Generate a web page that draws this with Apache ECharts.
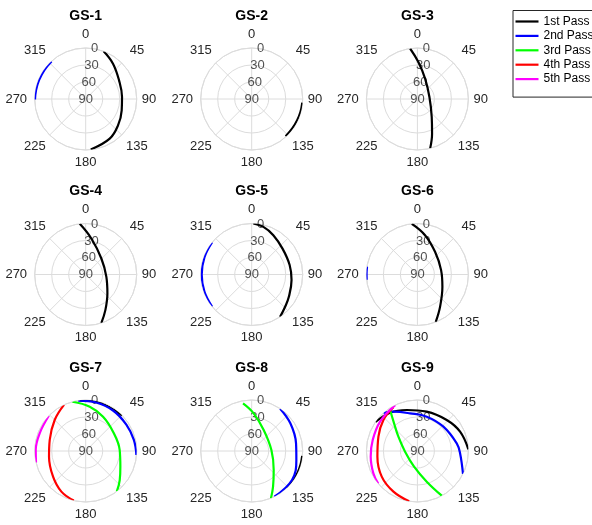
<!DOCTYPE html>
<html>
<head>
<meta charset="utf-8">
<script src="https://cdn.jsdelivr.net/npm/echarts@6/dist/echarts.min.js"></script>
<style>
html,body{margin:0;padding:0;background:#fff;}
#chart{width:592px;height:525px;}
</style>
</head>
<body>
<div id="chart"></div>
<script>
// ---------------- data ----------------
const passNames = ['1st Pass', '2nd Pass', '3rd Pass', '4th Pass', '5th Pass'];
const passColors = ['#000000', '#0000ff', '#00ff00', '#ff0000', '#ff00ff'];
const stationNames = ['GS-1', 'GS-2', 'GS-3', 'GS-4', 'GS-5', 'GS-6', 'GS-7', 'GS-8', 'GS-9'];
const thetaTicks = [0, 45, 90, 135, 180, 225, 270, 315];
const rTicks = [0, 30, 60, 90];   // elevation (deg): 0 at rim, 90 at centre

// tracks: [azimuth deg, elevation deg]
const gs1_pass1 = [[20.6,0],[37.7,11.2],[60.8,22.6],[86.8,25.8],[107.5,23.4],[129.2,16.4],[148.8,8.2],[174.3,0.5]];
const gs1_pass2 = [[317.6,0.5],[305,1],[292,1.2],[280,1],[269.5,0.5]];

const gs2_pass1 = [[94,0.5],[105,1],[115,1.5],[126,1.5],[137.7,1]];

const gs3_pass1 = [[351.8,0],[1.5,24.7],[20.7,51.6],[80.5,68.5],[141.5,49.4],[157.1,23.5],[165.5,0]];

const gs4_pass1 = [[353.3,0],[8.9,25.7],[44.4,50.5],[96.4,53.3],[131.2,39.1],[151.1,18.2],[162,0.4]];

const gs5_pass1 = [[1.8,0],[13.8,3.5],[28.8,10.8],[50,19],[76,21],[98,19],[121,13.5],[134,8],[146.2,0]];
const gs5_pass2 = [[309,0],[290,1.2],[270,1.8],[250,1.2],[231,0]];

const gs6_pass1 = [[353.7,0],[11,19.3],[37.9,39.3],[79.6,47.5],[116.3,40.8],[145,20.3],[158.8,0.4]];
const gs6_pass2 = [[264,0],[271,0.3],[279,0]];

const gs7_pass1 = [[353.4,0],[12,1],[29,2],[45.5,0.3]];
const gs7_pass2 = [[351.5,0],[12,2.5],[34,3.8],[57,4.5],[77,2.8],[94.5,0.3]];
const gs7_pass3 = [[344.9,0],[5.2,11.5],[26.8,22.1],[54.7,30.9],[88.3,30],[114.3,22.9],[130.5,11],[142.4,0]];
const gs7_pass4 = [[334.8,0],[315,12.6],[287,23.6],[261.2,24.5],[231.8,16.7],[210.9,6.4],[193.5,0]];
const gs7_pass5 = [[313.7,0],[291,3],[271.1,1.8],[257,0]];

const gs8_pass1 = [[95.6,0.5],[105,0.5],[115,0.5],[126,0.5],[136.6,0.5]];
const gs8_pass2 = [[33.9,0],[54.4,6.1],[80.2,10.6],[101.4,9.6],[125.7,2.4],[153.6,0]];
const gs8_pass3 = [[349.7,4.5],[3,23.4],[29.7,47.3],[87.1,55.2],[130.8,38.7],[149.1,16.6],[157.8,0]];

const gs9_pass1 = [[304.7,0],[324.5,6.9],[345.4,15.2],[13.3,18.6],[43.4,14.7],[65.6,7.3],[88.1,0]];
const gs9_pass2 = [[318.4,0],[328.6,8.7],[349,22.3],[15.2,27.2],[46.9,27.2],[79,19.3],[93.1,14.6],[116.6,0]];
const gs9_pass3 = [[326.3,3.1],[319.9,26.1],[307,48],[266.9,68.2],[192,61.8],[163.1,33.4],[151.4,0.2]];
const gs9_pass4 = [[331.2,2],[312.4,8.8],[290.2,16.7],[261.9,18.7],[234.3,12.5],[210.5,6.7],[189.3,0]];
const gs9_pass5 = [[334.1,0],[308.2,6.2],[283.8,8.8],[263.1,7],[243.1,2.9],[230.2,0]];

const stationTracks = [
  [gs1_pass1, gs1_pass2],
  [gs2_pass1],
  [gs3_pass1],
  [gs4_pass1],
  [gs5_pass1, gs5_pass2],
  [gs6_pass1, gs6_pass2],
  [gs7_pass1, gs7_pass2, gs7_pass3, gs7_pass4, gs7_pass5],
  [gs8_pass1, gs8_pass2, gs8_pass3],
  [gs9_pass1, gs9_pass2, gs9_pass3, gs9_pass4, gs9_pass5]
];

// ---------------- layout / style ----------------
const FONT = '"Liberation Sans", Arial, Helvetica, sans-serif';
const GRID = '#dcdcdc';
const TICK = '#262626';
const COLS = [85.7, 251.7, 417.4];
const ROWS = [99, 274.5, 451];
const R = 51;
const R_LABEL_ANGLE = 10;
const labelPad = {
  0: [0, 0, 2.5, 0], 45: [0, 0, 2, 4.4], 90: [0, 0, 0, 0], 135: [1.6, 0, 0, 0.8],
  180: [0.8, 0, 0, 0], 225: [1.6, 0.4, 0, 0], 270: [0, 2.6, 0, 0], 315: [0, 0.4, 2, 0]
};
const rich = {};
thetaTicks.forEach(t => {
  rich['t' + t] = { fontSize: 13, color: TICK, fontFamily: FONT, padding: labelPad[t] };
});

const polar = [], angleAxis = [], radiusAxis = [], series = [], title = [];

stationNames.forEach((name, i) => {
  const cx = COLS[i % 3], cy = ROWS[Math.floor(i / 3)];
  polar.push({ center: [cx, cy], radius: R });
  angleAxis.push({
    polarIndex: i, type: 'value', min: 0, max: 360, interval: 45,
    startAngle: 90, clockwise: true,
    axisLine: { show: true, lineStyle: { color: GRID, width: 1 } },
    axisTick: { show: false },
    splitLine: { show: true, lineStyle: { color: GRID, width: 1 } },
    axisLabel: {
      show: true, margin: 5, fontSize: 13, color: TICK, fontFamily: FONT,
      formatter: v => (thetaTicks.indexOf(v) >= 0 ? '{t' + v + '|' + v + '}' : ''),
      rich: rich
    }
  });
  radiusAxis.push({
    polarIndex: i, type: 'value', min: 0, max: 90, interval: 30, inverse: true,
    axisLine: { show: false }, axisTick: { show: false }, axisLabel: { show: false },
    splitLine: { show: true, lineStyle: { color: GRID, width: 1 } }
  });
  title.push({
    text: name, left: cx, top: cy - 90, textAlign: 'center', padding: 0,
    textStyle: { fontSize: 14, fontWeight: 'bold', color: '#000', fontFamily: FONT }
  });
  // radial tick labels
  series.push({
    type: 'scatter', coordinateSystem: 'polar', polarIndex: i, silent: true,
    symbolSize: 1, itemStyle: { color: 'rgba(0,0,0,0)' }, z: 1,
    data: rTicks.map(v => [v, R_LABEL_ANGLE]),
    label: {
      show: true, position: 'inside', formatter: p => String(p.value[0]),
      fontSize: 13, color: TICK, fontFamily: FONT
    },
    emphasis: { disabled: true }
  });
  stationTracks[i].forEach((track, j) => {
    series.push({
      type: 'line', coordinateSystem: 'polar', polarIndex: i,
      name: passNames[j], symbol: 'none', smooth: 0.4, clip: false, z: 3,
      lineStyle: { width: 2.2, color: passColors[j] },
      itemStyle: { color: passColors[j] },
      emphasis: { disabled: true },
      data: track.map(([az, el]) => [el, az])
    });
  });
});

const chart = echarts.init(document.getElementById('chart'), null, { renderer: 'canvas' });
chart.setOption({
  animation: false,
  backgroundColor: '#fff',
  title: title,
  polar: polar,
  angleAxis: angleAxis,
  radiusAxis: radiusAxis,
  legend: {
    data: passNames, orient: 'vertical', left: 513, top: 10.5,
    icon: 'rect', itemWidth: 23, itemHeight: 2.2, itemGap: 2.4,
    padding: [5, 20, 12, 2.5],
    borderColor: '#262626', borderWidth: 1, backgroundColor: '#fff',
    selectedMode: false,
    textStyle: { fontSize: 12, color: '#000', fontFamily: FONT }
  },
  series: series
});
</script>
</body>
</html>
